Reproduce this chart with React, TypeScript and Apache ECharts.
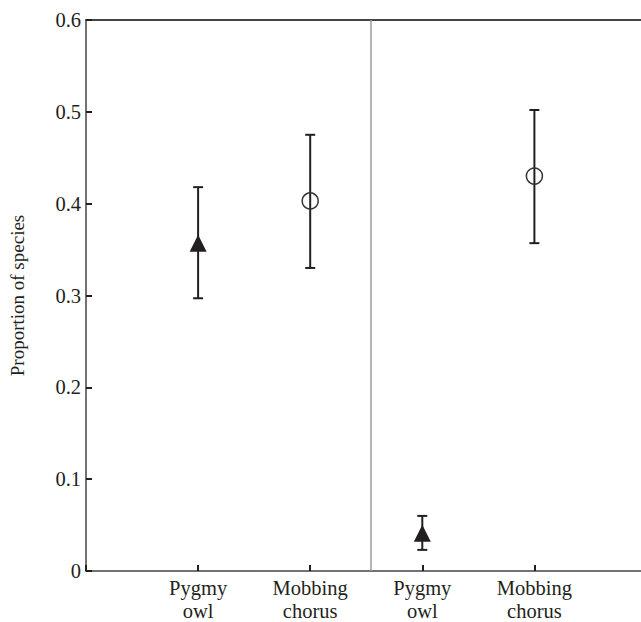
import React, { useEffect, useRef } from "react";
import * as echarts from "echarts";

const categories = ["", "Pygmy\nowl", "Mobbing\nchorus", "Pygmy\nowl", "Mobbing\nchorus"];
const yTicks = [0, 0.1, 0.2, 0.3, 0.4, 0.5, 0.6];
// [x position, mean, lower, upper]
const pygmyOwl = [
  [1, 0.357, 0.297, 0.418],
  [3, 0.041, 0.023, 0.06],
];
const mobbingChorus = [
  [2, 0.403, 0.33, 0.475],
  [4, 0.43, 0.357, 0.502],
];
const dividerX = 2.542;

const ink = "#231f20";
const font = "Liberation Serif";

export default function App() {
  const ref = useRef<HTMLDivElement>(null);
  useEffect(() => {
    if (!ref.current) return;
    const chart = echarts.init(ref.current, null, { renderer: "svg" });
    const errData = [...pygmyOwl, ...mobbingChorus].map((d) => [d[0], d[2], d[3]]);
    chart.setOption({
      animation: false,
      backgroundColor: "#fff",
      textStyle: { fontFamily: font },
      grid: { left: 84, top: 20, right: 0, bottom: 49 },
      xAxis: [
        {
          type: "value",
          min: 0,
          max: 4.951,
          interval: 1,
          splitLine: { show: false },
          axisLine: { show: true, lineStyle: { color: "#444", width: 1.5 } },
          axisTick: { show: true, inside: true, length: 6, lineStyle: { color: ink, width: 2 } },
          axisLabel: {
            show: true,
            margin: 5,
            color: ink,
            fontFamily: font,
            fontSize: 20.5,
            lineHeight: 23,
            showMaxLabel: false,
            formatter: (v: number) => {
              const i = Math.round(v);
              if (Math.abs(v - i) > 1e-6 || i < 1 || i > 4) return "";
              return categories[i];
            },
          },
        },
        {
          type: "value",
          position: "top",
          min: 0,
          max: 4.951,
          splitLine: { show: false },
          axisLine: { show: true, lineStyle: { color: "#444", width: 1.8 } },
          axisTick: { show: false },
          axisLabel: { show: false },
        },
      ],
      yAxis: {
        type: "value",
        min: 0,
        max: 0.6,
        interval: 0.1,
        name: "Proportion of species",
        nameLocation: "middle",
        nameGap: 59,
        nameTextStyle: { color: ink, fontFamily: font, fontSize: 19 },
        splitLine: { show: false },
        axisLine: { show: true, lineStyle: { color: "#444", width: 1.5 } },
        axisTick: { show: true, inside: true, length: 6, lineStyle: { color: ink, width: 2 } },
        axisLabel: {
          margin: 5,
          color: ink,
          fontFamily: font,
          fontSize: 20.5,
          formatter: (v: number) => {
            const t = yTicks.find((y) => Math.abs(y - v) < 1e-6);
            return t === undefined ? "" : t === 0 ? "0" : t.toFixed(1);
          },
        },
      },
      series: [
        {
          type: "custom",
          xAxisIndex: 0,
          data: errData,
          renderItem: (params: any, api: any) => {
            const x = api.value(0);
            const lo = api.coord([x, api.value(1)]);
            const hi = api.coord([x, api.value(2)]);
            const hw = 5;
            const style = { stroke: ink, lineWidth: 2 };
            return {
              type: "group",
              children: [
                { type: "line", shape: { x1: lo[0], y1: lo[1], x2: hi[0], y2: hi[1] }, style },
                { type: "line", shape: { x1: lo[0] - hw, y1: lo[1], x2: lo[0] + hw, y2: lo[1] }, style },
                { type: "line", shape: { x1: hi[0] - hw, y1: hi[1], x2: hi[0] + hw, y2: hi[1] }, style },
              ],
            };
          },
          markLine: {
            silent: true,
            symbol: "none",
            label: { show: false },
            lineStyle: { color: "#9a9a9a", width: 1.5, type: "solid" },
            data: [{ xAxis: dividerX }],
          },
          z: 2,
        },
        {
          type: "scatter",
          data: pygmyOwl.map((d) => [d[0], d[1]]),
          symbol: "triangle",
          symbolSize: 17,
          itemStyle: { color: ink, opacity: 1 },
          z: 3,
        },
        {
          type: "scatter",
          data: mobbingChorus.map((d) => [d[0], d[1]]),
          symbol: "circle",
          symbolSize: 16,
          itemStyle: { color: "rgba(0,0,0,0)", borderColor: "#333", borderWidth: 1.5, opacity: 1 },
          z: 3,
        },
      ],
    });
    return () => chart.dispose();
  }, []);
  return (
    <div
      ref={ref}
      style={{ position: "absolute", left: 0, top: 0, width: 641, height: 622 }}
    />
  );
}
